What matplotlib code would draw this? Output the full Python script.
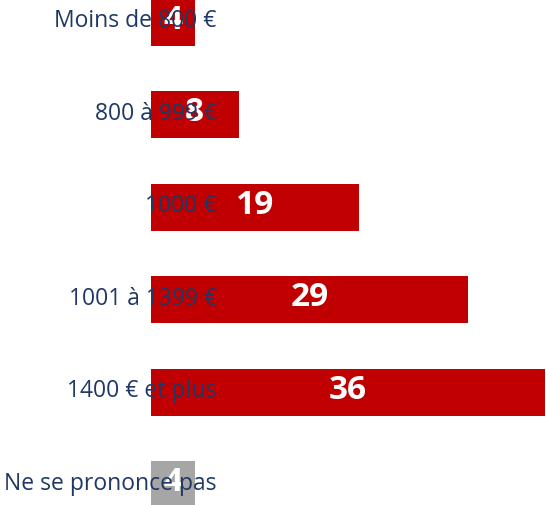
import matplotlib.pyplot as plt

# revenus mensuels (%)
categories = ['Moins de 800 €', '800 à 999 €', '1000 €', '1001 à 1399 €',
              '1400 € et plus', 'Ne se prononce pas']
values = [4, 8, 19, 29, 36, 4]
colors = ['#C00000'] * 5 + ['#A6A6A6']

plt.rcParams['font.family'] = ['Open Sans', 'DejaVu Sans']

fig = plt.figure(figsize=(5.46, 5.06), dpi=100)
ax = fig.add_axes([0, 0, 1, 1])

pos = list(range(len(categories)))
ax.barh(pos, values, height=0.51, color=colors)

for i, (cat, v) in enumerate(zip(categories, values)):
    # valeur au centre de la barre
    ax.text(v / 2, i - 0.03, str(v), ha='center', va='center',
            fontsize=24, fontweight='bold', color='white', zorder=3)
    # libellé de catégorie (déborde sur la barre, comme dans l'original)
    ax.text(6.0, i - 0.02, cat, ha='right', va='center',
            fontsize=16.5, color='#1F3864', zorder=4)

ax.set_xlim(-13.8, 36.1)
ax.set_ylim(5.22, -0.25)
ax.axis('off')

fig.savefig('out.png', dpi=100)
